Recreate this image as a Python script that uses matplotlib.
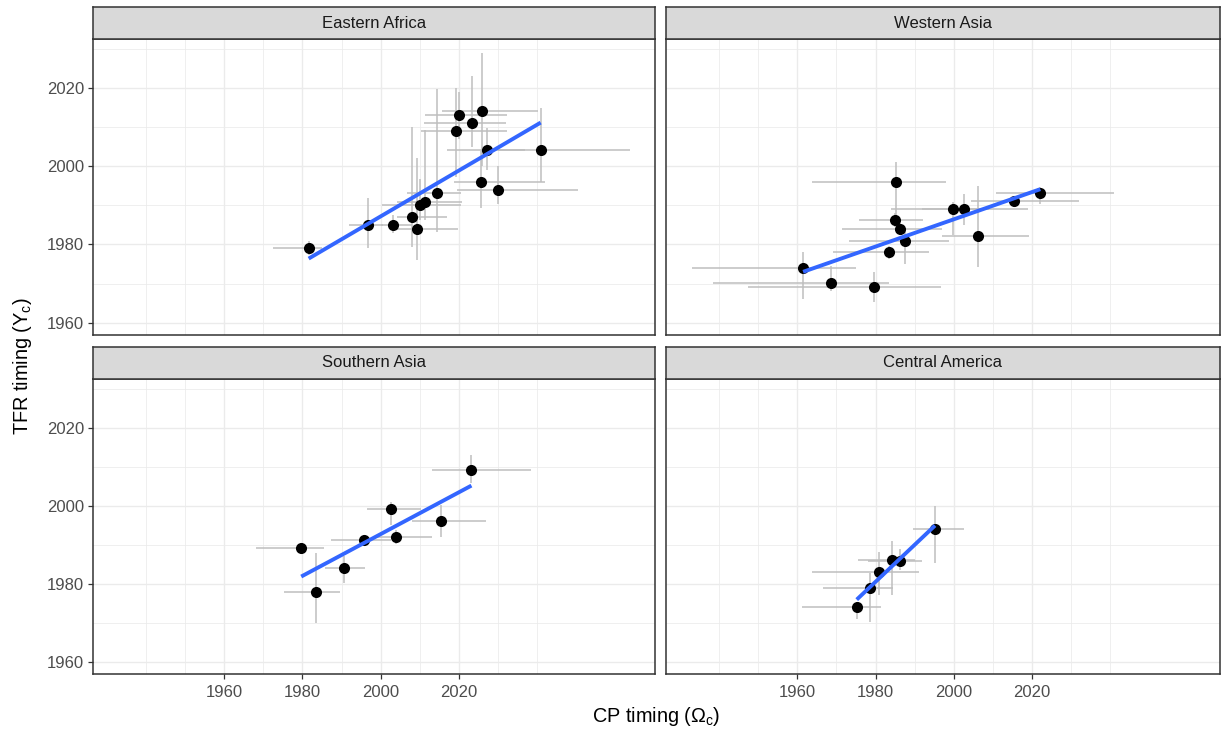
"""Four-region facet: CP timing vs TFR timing with uncertainty bars and linear fits."""

import matplotlib

matplotlib.use("Agg")
import matplotlib.pyplot as plt
import numpy as np

plt.rcParams["font.family"] = ["Liberation Sans", "DejaVu Sans"]
plt.rcParams["mathtext.fontset"] = "custom"
plt.rcParams["mathtext.rm"] = "Liberation Sans"
plt.rcParams["mathtext.it"] = "Liberation Sans:italic"

# ---- data (years) ----
regions = ["Eastern Africa", "Western Asia", "Southern Asia", "Central America"]

ea_cp = [1981.6, 1996.7, 2003.2, 2007.9, 2009.3, 2010.1, 2011.4, 2014.4,
         2019.2, 2020.1, 2023.3, 2025.9, 2027.2, 2025.7, 2030.1, 2040.9]
ea_cp_lo = [1972.5, 1991.9, 2000.0, 2004.3, 2002.4, 2000.4, 2004.3, 2006.8,
            2010.3, 2011.4, 2011.1, 2015.8, 2017.0, 2018.8, 2019.5, 2030.0]
ea_cp_hi = [1985.0, 2000.5, 2008.0, 2017.0, 2019.8, 2020.5, 2020.9, 2020.5,
            2032.2, 2032.2, 2032.0, 2040.2, 2037.0, 2041.9, 2050.5, 2063.8]
ea_tfr = [1979.1, 1985.0, 1985.0, 1987.0, 1984.0, 1990.0, 1990.9, 1993.2,
          2009.0, 2013.1, 2011.1, 2014.1, 2004.1, 1996.1, 1994.0, 2004.1]
ea_tfr_lo = [1977.2, 1979.1, 1983.0, 1979.3, 1975.9, 1986.2, 1986.2, 1983.2,
             1997.3, 2007.0, 2005.0, 2000.0, 1999.0, 1989.2, 1990.4, 1996.0]
ea_tfr_hi = [1981.0, 1992.0, 1987.5, 2010.0, 2002.0, 1996.8, 2009.2, 2019.9,
             2020.0, 2019.0, 2023.1, 2029.1, 2009.8, 2004.0, 2000.0, 2015.0]

wa_cp = [1961.5, 1968.7, 1979.5, 1983.5, 1984.9, 1985.3, 1986.2, 1987.6,
         1999.7, 2002.6, 2006.2, 2015.3, 2022.1]
wa_cp_lo = [1933.0, 1938.5, 1947.4, 1969.1, 1975.9, 1963.9, 1971.5, 1973.2,
            1984.0, 1992.0, 1996.9, 2004.4, 2010.8]
wa_cp_hi = [1974.9, 1983.4, 1996.7, 1993.7, 1992.1, 1998.1, 1997.1, 1998.8,
            2009.0, 2018.9, 2019.1, 2031.9, 2040.9]
wa_tfr = [1974.0, 1970.1, 1969.1, 1978.1, 1986.2, 1996.0, 1983.9, 1981.0,
          1989.1, 1989.1, 1982.1, 1991.0, 1993.1]
wa_tfr_lo = [1966.1, 1968.2, 1965.2, 1976.3, 1984.5, 1987.4, 1982.5, 1975.0,
             1982.3, 1985.1, 1974.2, 1989.9, 1990.4]
wa_tfr_hi = [1978.0, 1974.6, 1972.9, 1979.7, 1988.0, 2001.1, 1985.5, 1983.6,
             1990.9, 1993.0, 1995.0, 1992.4, 1994.7]

sa_cp = [1979.7, 1983.4, 1990.7, 1995.7, 2002.6, 2003.8, 2015.4, 2023.2]
sa_cp_lo = [1968.2, 1975.4, 1985.9, 1987.2, 1996.6, 1999.0, 2008.1, 2013.2]
sa_cp_hi = [1985.5, 1989.6, 1996.0, 2002.6, 2010.3, 2013.2, 2027.0, 2038.5]
sa_tfr = [1989.2, 1978.1, 1984.2, 1991.3, 1999.2, 1992.1, 1996.2, 2009.2]
sa_tfr_lo = [1988.5, 1970.1, 1980.2, 1990.3, 1995.1, 1990.2, 1992.1, 2005.8]
sa_tfr_hi = [1990.0, 1988.0, 1987.2, 1992.3, 2000.9, 1993.8, 2000.3, 2013.1]

ca_cp = [1975.2, 1978.5, 1980.9, 1984.1, 1986.3, 1995.2]
ca_cp_lo = [1961.2, 1966.5, 1963.9, 1975.5, 1978.0, 1989.6]
ca_cp_hi = [1981.5, 1984.4, 1991.0, 1990.0, 1991.8, 2002.7]
ca_tfr = [1974.2, 1979.1, 1983.2, 1986.1, 1986.0, 1994.1]
ca_tfr_lo = [1971.2, 1970.3, 1977.2, 1977.2, 1983.6, 1985.5]
ca_tfr_hi = [1975.5, 1982.9, 1988.3, 1991.0, 1989.1, 2000.0]

x_tick_labels = [1960, 1980, 2000, 2020]
y_tick_labels = [1960, 1980, 2000, 2020]

panel_data = [
    (ea_cp, ea_cp_lo, ea_cp_hi, ea_tfr, ea_tfr_lo, ea_tfr_hi),
    (wa_cp, wa_cp_lo, wa_cp_hi, wa_tfr, wa_tfr_lo, wa_tfr_hi),
    (sa_cp, sa_cp_lo, sa_cp_hi, sa_tfr, sa_tfr_lo, sa_tfr_hi),
    (ca_cp, ca_cp_lo, ca_cp_hi, ca_tfr, ca_tfr_lo, ca_tfr_hi),
]

# ---- layout in pixels ----
W, H = 1222, 731
col_px = [(92.7, 655.3), (665.7, 1220.0)]
row_px = [(39.3, 334.7), (379.0, 674.4)]
strip_px = [(6.7, 39.3), (346.7, 379.0)]
xlims = [(1926.4, 2070.2), (1926.4, 2068.0)]
ylim = (1956.9, 2032.5)


def rect(x0, y0, x1, y1):
    return [x0 / W, 1 - y1 / H, (x1 - x0) / W, (y1 - y0) / H]


fig = plt.figure(figsize=(W / 100, H / 100), dpi=100)

for i, name in enumerate(regions):
    r, c = divmod(i, 2)
    cp, cp_lo, cp_hi, tfr, tfr_lo, tfr_hi = (np.asarray(a) for a in panel_data[i])

    ax = fig.add_axes(rect(col_px[c][0], row_px[r][0], col_px[c][1], row_px[r][1]))
    ax.set_xlim(*xlims[c])
    ax.set_ylim(*ylim)

    # grid (ggplot theme_bw style)
    for v in [1940, 1950, 1970, 1990, 2010, 2030, 2040]:
        ax.axvline(v, color="#EBEBEB", lw=0.55, zorder=0)
    for v in [1960, 1980, 2000, 2020]:
        ax.axvline(v, color="#EBEBEB", lw=1.0, zorder=0)
    for v in [1970, 1990, 2010, 2030]:
        ax.axhline(v, color="#EBEBEB", lw=0.55, zorder=0)
    for v in [1960, 1980, 2000, 2020]:
        ax.axhline(v, color="#EBEBEB", lw=1.0, zorder=0)

    # uncertainty bars
    ax.hlines(tfr, cp_lo, cp_hi, color="#BEBEBE", lw=1.1, zorder=1)
    ax.vlines(cp, tfr_lo, tfr_hi, color="#BEBEBE", lw=1.1, zorder=1)

    ax.plot(cp, tfr, "o", color="black", ms=8, mec="none", zorder=2)

    # linear fit over the observed range
    slope, intercept = np.polyfit(cp, tfr, 1)
    xs = np.array([cp.min(), cp.max()])
    ax.plot(xs, intercept + slope * xs, color="#3366FF", lw=2.8,
            solid_capstyle="butt", zorder=3)

    for s in ax.spines.values():
        s.set_color("#333333")
        s.set_linewidth(1.1)

    ax.set_xticks(x_tick_labels)
    ax.set_yticks(y_tick_labels)
    ax.tick_params(colors="#333333", length=3.8, width=0.9, labelsize=12,
                   labelcolor="#4D4D4D", pad=2.5)
    ax.tick_params(axis="x", pad=3.5)
    if r == 0:
        ax.tick_params(axis="x", bottom=False, labelbottom=False)
    if c == 1:
        ax.tick_params(axis="y", left=False, labelleft=False)

    # strip
    sax = fig.add_axes(rect(col_px[c][0], strip_px[r][0], col_px[c][1], strip_px[r][1]))
    sax.set_facecolor("#D9D9D9")
    sax.set_xticks([])
    sax.set_yticks([])
    for s in sax.spines.values():
        s.set_color("#333333")
        s.set_linewidth(1.1)
    sax.text(0.5, 0.5, name, ha="center", va="center", fontsize=12,
             color="#1A1A1A", transform=sax.transAxes)

fig.text(22 / W, 1 - 366 / H, r"TFR timing ($\mathrm{Y_c}$)", rotation=90,
         ha="center", va="center", fontsize=14.3)
fig.text(656 / W, 1 - 717 / H, r"CP timing ($\mathrm{\Omega_c}$)",
         ha="center", va="center", fontsize=14.3)

fig.savefig("out.png", dpi=100, facecolor="white")
